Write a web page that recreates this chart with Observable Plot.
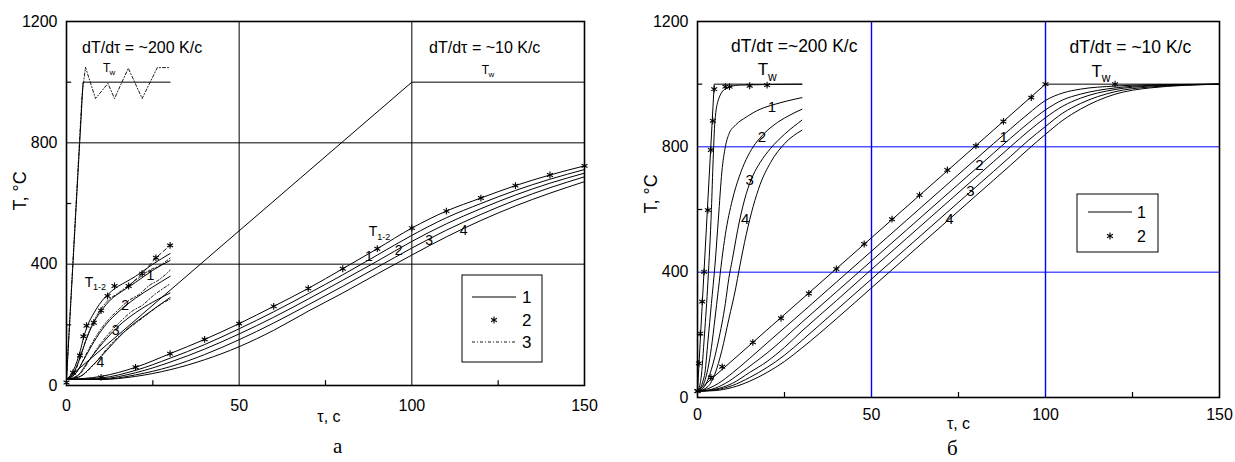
<!DOCTYPE html>
<html><head><meta charset="utf-8">
<script src="https://cdn.jsdelivr.net/npm/d3@7"></script>
<script src="https://cdn.jsdelivr.net/npm/@observablehq/plot@0.6"></script>
<style>
html,body{margin:0;padding:0;background:#fff;}
#wrap{position:relative;width:1235px;height:462px;overflow:hidden;font-family:Arial,"Liberation Sans",sans-serif;background:#fff;}
#wrap > *{position:absolute;top:0;}
</style></head><body><div id="wrap"></div>
<script>
// ---------- ticks ----------
const xTicks = [0, 50, 100, 150];
const yTicks = [0, 400, 800, 1200];
const xMinor = [25, 75, 125];
const yMinor = [200, 600, 1000];
const xGrid = [50, 100];
const yGrid = [400, 800];

// ---------- panel а (left) ----------
const aTwFast = [[0,20],[4.8,1000],[30,1000]];
const aTwFastOsc = [[0,20],[4.5,960],[5.5,1049],[8.4,946],[12,996],[13.9,946],[17.9,1046],[21.9,946],[26.3,1048],[29.6,1048]];
const aTwSlow = [[0,20],[100,1000],[150,1000]];
const aFastT12 = [[0,20],[2,50],[4,115],[5,160],[6,195],[8,240],[10,275],[12,300],[14,320],[17,340],[20,360],[25,400],[30,435]];
const aFast1 = [[0,20],[2,40],[4,95],[6,160],[8,210],[10,245],[13,285],[16,310],[20,340],[25,380],[30,412]];
const aFast2 = [[0,20],[3,45],[5,85],[8,145],[11,195],[14,232],[17,262],[20,288],[25,325],[30,360]];
const aFast3 = [[0,20],[3,30],[6,75],[9,120],[12,160],[15,195],[20,240],[25,275],[30,305]];
const aFast4 = [[0,20],[4,30],[7,60],[10,95],[14,145],[18,190],[22,225],[26,258],[30,290]];
const aFastD1 = [[0,20],[3,60],[5,130],[7,190],[9,235],[12,280],[15,305],[18,330],[21,355],[24,380],[27,395],[30,420]];
const aFastD2 = [[0,20],[3,45],[6,110],[9,170],[12,215],[15,250],[18,280],[21,300],[24,330],[27,350],[30,380]];
const aFastD3 = [[0,20],[4,40],[7,90],[10,140],[13,180],[16,215],[19,245],[22,265],[25,295],[28,320],[30,335]];
const aFastD4 = [[0,20],[4,30],[8,70],[12,125],[16,170],[20,205],[24,240],[27,265],[30,285]];
const aFastStars = [[0,10],[1.9,42],[3.9,99],[4.9,162],[5.8,197],[7.9,207],[10,247],[11.9,295],[13.9,328],[18,328],[21.9,369],[25.9,421],[30,462]];
const aFastStarsDash = [[18,328],[21.9,369],[25.9,421],[30,462]];
const aSlow0 = [[0,20],[10,30],[20,60],[30,105],[40,152],[50,204],[60,261],[70,320],[80,385],[90,451],[100,519],[110,575],[120,618],[130,659],[140,694],[150,724]];
const aSlow1 = [[0,20],[10,25],[20,50],[30,90],[40,135],[50,187],[60,243],[70,303],[80,365],[90,430],[100,495],[110,553],[120,600],[130,643],[140,680],[150,712]];
const aSlow2 = [[0,20],[10,22],[20,42],[30,77],[40,120],[50,170],[60,225],[70,285],[80,347],[90,410],[100,475],[110,533],[120,583],[130,628],[140,667],[150,700]];
const aSlow3 = [[0,20],[10,20],[20,35],[30,62],[40,102],[50,151],[60,206],[70,266],[80,327],[90,390],[100,453],[110,512],[120,564],[130,611],[140,652],[150,688]];
const aSlow4 = [[0,20],[10,20],[20,30],[30,52],[40,85],[50,128],[60,182],[70,245],[80,305],[90,368],[100,430],[110,490],[120,544],[130,592],[140,634],[150,672]];
const aSlowStars = [[10,27],[20,60],[30,105],[40,152],[50,204],[60,261],[70,320],[80,385],[90,451],[100,519],[110,575],[120,618],[130,659],[140,694],[150,724]];

// ---------- panel б (right) ----------
const bTwFast = [[0,20],[4.8,1000],[30,1000]];
const bTwSlow = [[0,20],[100,1000],[150,1000]];
const bFast0 = [[0,20],[1,60],[2,200],[3,370],[4,600],[4.5,760],[5,880],[6,950],[8,985],[12,997],[30,1000]];
const bFast1 = [[0,20],[2,70],[3,180],[4,300],[5,420],[6,570],[7,720],[8,800],[9,840],[11,870],[14,895],[18,920],[22,935],[26,947],[30,957]];
const bFast2 = [[0,20],[2,50],[4,160],[5,250],[6,345],[7,440],[8,520],[10,630],[12,705],[14,760],[16,800],[18.5,835],[22,870],[26,898],[30,920]];
const bFast3 = [[0,20],[2,35],[4,90],[6,180],[8,300],[9,380],[10,440],[12,560],[14,650],[16,710],[18,750],[21,795],[25,840],[30,885]];
const bFast4 = [[0,20],[3,35],[5,75],[7,150],[9,250],[11,350],[12,410],[14,520],[16,610],[18,680],[21,750],[25,810],[30,853]];
const bFastStars = [[0,21],[0.4,109],[0.8,204],[1.35,306],[1.9,401],[3.0,598],[3.85,790],[4.4,883],[4.8,984],[8,992],[9.2,992],[15,995],[20,997]];
const bSlow1 = [[0,20],[3,28],[6,45],[10,78],[15,125],[20,174],[30,271],[40,369],[50,467],[60,565],[70,663],[80,761],[90,858],[95,905],[100,948],[105,972],[110,984],[120,994],[130,998],[150,1000]];
const bSlow2 = [[0,20],[4,26],[8,45],[12,75],[16,108],[20,142],[30,240],[40,338],[50,436],[60,534],[70,632],[80,730],[90,828],[95,875],[100,918],[105,950],[110,968],[120,988],[130,996],[150,1000]];
const bSlow3 = [[0,20],[5,26],[10,45],[15,80],[20,115],[25,160],[30,212],[40,310],[50,409],[60,507],[70,605],[80,703],[90,801],[95,849],[100,893],[105,930],[110,955],[120,983],[130,994],[150,1000]];
const bSlow4 = [[0,20],[5,24],[10,38],[15,64],[20,96],[25,135],[30,182],[40,280],[50,378],[60,476],[70,574],[80,672],[90,770],[95,820],[100,865],[105,908],[110,938],[120,976],[130,991],[150,1000]];
const bSlow5 = [[0,20],[5,22],[10,32],[15,52],[20,80],[25,115],[30,158],[40,252],[50,350],[60,448],[70,546],[80,644],[90,742],[95,792],[100,840],[105,885],[110,920],[120,968],[130,988],[150,1000]];
const bSlowStars = [[0,20],[3.85,64],[7.1,98],[15.9,176],[24,253],[32,332],[39.9,410],[47.9,490],[55.9,569],[63.8,646],[71.8,726],[80,803],[87.9,881],[95.9,957],[100,1000],[120,1000]];

// ---------- text annotations ----------
const aTitles = [{t:"dT/d\u03c4 = ~200 K/c", x:4.5, y:1112},{t:"dT/d\u03c4 = ~10 K/c", x:105, y:1112}];
const bTitles = [{t:"dT/d\u03c4 =~200 K/c", x:9.6, y:1122},{t:"dT/d\u03c4 = ~10 K/c", x:106.9, y:1117}];
const aNums = [{t:"1",x:24.3,y:363},{t:"2",x:17,y:264},{t:"3",x:14.2,y:182},{t:"4",x:9.85,y:77},
               {t:"1",x:87.6,y:424},{t:"2",x:96.2,y:446},{t:"3",x:105,y:479},{t:"4",x:115,y:512}];
const bNums = [{t:"1",x:21.4,y:925},{t:"2",x:18.5,y:830},{t:"3",x:15,y:694},{t:"4",x:13.7,y:569},
               {t:"1",x:88,y:830},{t:"2",x:81,y:740},{t:"3",x:78.4,y:660},{t:"4",x:72.4,y:569}];
const aTwLabels = [{x:11.6,y:1046},{x:121.3,y:1040}];
const aT12Labels = [{x:6.5,y:341},{x:88.8,y:506}];
const bTwLabels = [{x:18.8,y:1046},{x:114.7,y:1040}];

const rows = (series) => series.flatMap((s, k) => s.map(([t, T]) => ({t, T, k})));

function subLabel(data, main, sub, fs, dx, dy, sfs) {
  return [
    Plot.text(data, {x: "x", y: "y", text: () => main, fontSize: fs, fill: "#000"}),
    Plot.text(data, {x: "x", y: "y", text: () => sub, dx, dy, fontSize: sfs, fill: "#000", textAnchor: "start"})
  ];
}

function panel(o) {
  const grid = o.grid;
  const marks = [
    Plot.ruleY(yGrid, {x1: 0, x2: 150, stroke: grid, strokeWidth: 1}),
    Plot.ruleX(xGrid, {y1: 0, y2: 1200, stroke: grid, strokeWidth: o.vGridW}),
    Plot.ruleY(yMinor, {x1: 0, x2: 1.5, stroke: "#000", strokeWidth: 1.2}),
    Plot.ruleX(xMinor, {y1: 0, y2: 16, stroke: "#000", strokeWidth: 1.2}),
    Plot.frame({stroke: "#000", strokeWidth: 1.6}),
    Plot.line(rows(o.sharp), {x: "t", y: "T", z: "k", stroke: "#000", strokeWidth: 1}),
    Plot.line(rows(o.smooth), {x: "t", y: "T", z: "k", stroke: "#000", strokeWidth: 1, curve: "monotone-x"}),
    ...(o.dashed ? [Plot.line(rows(o.dashed), {x: "t", y: "T", z: "k", stroke: "#000", strokeWidth: 0.9, strokeDasharray: "3,2,1,2", curve: "monotone-x"})] : []),
    ...(o.osc ? [Plot.line(o.osc, {x: d => d[0], y: d => d[1], stroke: "#000", strokeWidth: 0.9, strokeDasharray: "3,2,1,2"})] : []),
    ...(o.starDash ? [Plot.line(o.starDash, {x: d => d[0], y: d => d[1], stroke: "#000", strokeWidth: 0.9, strokeDasharray: "4,3"})] : []),
    Plot.dot(rows(o.stars), {x: "t", y: "T", symbol: "asterisk", r: 3.2, stroke: "#000", strokeWidth: 1.1}),
    // tick labels
    Plot.text(yTicks, {x: 0, y: d => d, text: d => String(d), textAnchor: "end", dx: -9, fontSize: 16, fill: "#000"}),
    Plot.text(xTicks, {x: d => d, y: 0, text: d => String(d), dy: o.xLabDy, fontSize: 16, fill: "#000"}),
    // axis labels
    Plot.text(["T, \u00b0C"], {frameAnchor: "left", dx: -46, dy: o.yLabDy, rotate: -90, fontSize: 18, fill: "#000"}),
    Plot.text(["\u03c4, c"], {x: o.xLabX, y: 0, dy: o.xNameDy, fontSize: 16, fill: "#000"}),
    Plot.text([o.letter], {x: o.letterX, y: 0, dy: o.letterDy, fontSize: 21, fontFamily: "'Liberation Serif','Times New Roman',serif", fill: "#000"}),
    // annotations
    Plot.text(o.titles, {x: "x", y: "y", text: "t", textAnchor: "start", fontSize: o.titleFs, fill: "#000"}),
    Plot.text(o.nums, {x: "x", y: "y", text: "t", fontSize: o.numFs, fill: "#000"}),
    ...o.subs
  ];
  return Plot.plot({
    width: o.width, height: 462,
    marginLeft: o.ml, marginRight: o.mr, marginTop: o.mt, marginBottom: o.mb,
    x: {domain: [0, 150], axis: null},
    y: {domain: [0, 1200], axis: null},
    style: {fontFamily: "Arial, 'Liberation Sans', sans-serif", background: "transparent", overflow: "visible"},
    marks
  });
}

const wrap = document.getElementById("wrap");

const left = panel({
  width: 620, ml: 66, mr: 36, mt: 21, mb: 77, grid: "#000", vGridW: 1,
  sharp: [aTwFast, aTwSlow],
  smooth: [aFastT12, aFast1, aFast2, aFast3, aFast4, aSlow0, aSlow1, aSlow2, aSlow3, aSlow4],
  dashed: [aFastD1, aFastD2, aFastD3, aFastD4],
  osc: aTwFastOsc, starDash: aFastStarsDash,
  stars: [aFastStars, aSlowStars],
  titles: aTitles, nums: aNums, titleFs: 16, numFs: 14,
  subs: [...subLabel(aTwLabels, "T", "w", 12, 3, 4, 8), ...subLabel(aT12Labels, "T", "1-2", 14, 4, 5, 9)],
  xLabDy: 20, yLabDy: 7, xLabX: 76, xNameDy: 31, letter: "\u0430", letterX: 78.5, letterDy: 61
});
left.style.left = "0px";
wrap.appendChild(left);

const right = panel({
  width: 615, ml: 77, mr: 16, mt: 21, mb: 65, grid: "#0000ff", vGridW: 1.4,
  sharp: [bTwFast, bTwSlow],
  smooth: [bFast0, bFast1, bFast2, bFast3, bFast4, bSlow1, bSlow2, bSlow3, bSlow4, bSlow5],
  dashed: null, osc: null, starDash: null,
  stars: [bFastStars, bSlowStars],
  titles: bTitles, nums: bNums, titleFs: 17.5, numFs: 15,
  subs: subLabel(bTwLabels, "T", "w", 17, 5, 7, 12),
  xLabDy: 17, yLabDy: 4, xLabX: 75, xNameDy: 26, letter: "\u0431", letterX: 73.2, letterDy: 51
});
right.style.left = "620px";
wrap.appendChild(right);

// ---------- legends ----------
function legend(o) {
  const svg = d3.create("svg").attr("width", o.w + 2).attr("height", o.h + 2)
    .style("position", "absolute").style("left", (o.x - 1) + "px").style("top", (o.y - 1) + "px");
  svg.append("rect").attr("x", 1).attr("y", 1).attr("width", o.w).attr("height", o.h)
    .attr("fill", "#fff").attr("stroke", "#000").attr("stroke-width", 1);
  o.items.forEach((it, i) => {
    const cy = 1 + o.rows[i];
    if (it === "line") svg.append("line").attr("x1", o.lx1).attr("x2", o.lx2).attr("y1", cy).attr("y2", cy).attr("stroke", "#000").attr("stroke-width", 1);
    if (it === "dash") svg.append("line").attr("x1", o.lx1).attr("x2", o.lx2).attr("y1", cy).attr("y2", cy).attr("stroke", "#000").attr("stroke-width", 0.9).attr("stroke-dasharray", "3,2,1,2");
    if (it === "star") svg.append("path").attr("d", d3.symbol(d3.symbolAsterisk, 32)()).attr("transform", `translate(${(o.lx1 + o.lx2) / 2},${cy})`).attr("stroke", "#000").attr("stroke-width", 1.1).attr("fill", "none");
    svg.append("text").attr("x", o.tx).attr("y", cy).attr("dy", "0.36em").attr("font-size", o.fs)
      .attr("font-family", "Arial, 'Liberation Sans', sans-serif").text(o.labels[i]);
  });
  wrap.appendChild(svg.node());
}
const legendLabelsA = ["1", "2", "3"];
const legendLabelsB = ["1", "2"];
legend({x: 462, y: 275, w: 80, h: 87, items: ["line", "star", "dash"], labels: legendLabelsA, rows: [22, 45, 67], lx1: 11, lx2: 55, tx: 61, fs: 17});
legend({x: 1077, y: 194, w: 81, h: 58, items: ["line", "star"], labels: legendLabelsB, rows: [18, 42], lx1: 12, lx2: 56, tx: 61, fs: 16});
</script></body></html>
